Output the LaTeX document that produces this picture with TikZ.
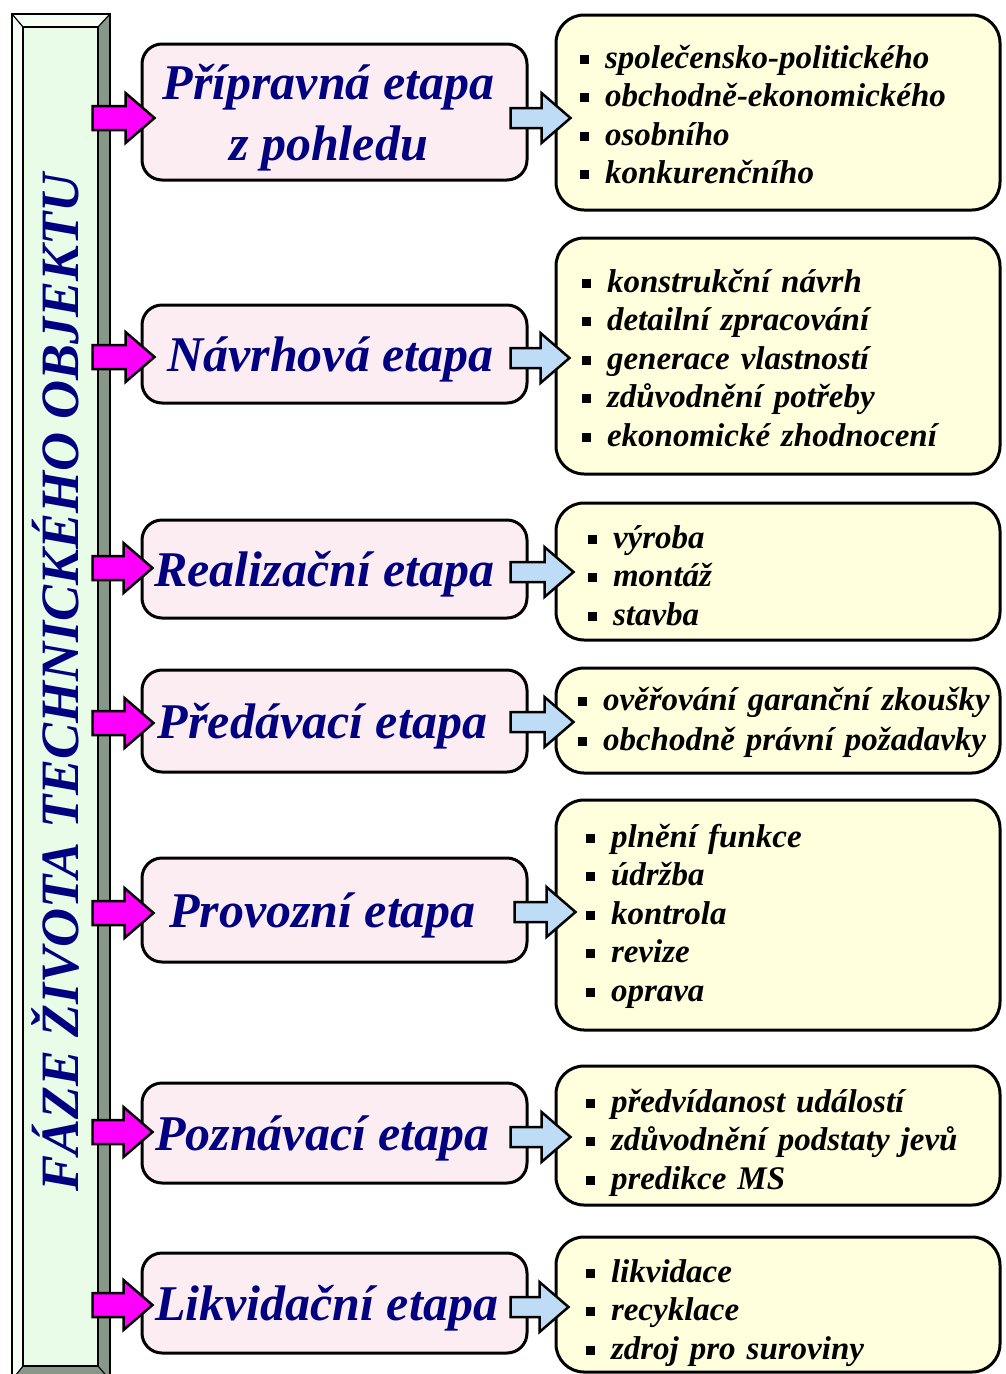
\documentclass[tikz,border=0pt]{standalone}
\usepackage{fontspec}
\setmainfont{Liberation Serif}
\usetikzlibrary{calc}

\definecolor{navy}{RGB}{0,0,128}
\definecolor{pinkfill}{RGB}{252,237,242}
\definecolor{creamfill}{RGB}{255,255,222}
\definecolor{arrowblue}{RGB}{190,220,246}
\definecolor{arrowmagenta}{RGB}{255,0,255}
\definecolor{barface}{RGB}{232,252,232}
\definecolor{barlight}{RGB}{246,255,246}
\definecolor{bardark}{RGB}{136,152,136}

% square bullet followed by the gap before the item text
\newcommand{\sqbullet}{\makebox[25pt][l]{\rule[4.5pt]{9pt}{9pt}}}
\newcommand{\entry}[1]{\mbox{\sqbullet#1}}

% block arrow: fill, half body height, tail point (x used), tip point
\newcommand{\blockarrow}[4]{%
  \draw[arrowline, fill=#1] let \p1=(#3), \p2=(#4) in
    (\x1,\y2+#2) -- (\x2-29pt,\y2+#2) -- (\x2-29pt,\y2+25pt) -- (\x2,\y2)
    -- (\x2-29pt,\y2-25pt) -- (\x2-29pt,\y2-#2) -- (\x1,\y2-#2) -- cycle;}

\tikzset{
  stage/.style={draw=black, line width=3pt, rounded corners=20pt, fill=pinkfill,
    minimum width=385pt, inner sep=0pt},
  stagetitle/.style={text=navy, font=\fontsize{50}{60}\selectfont\bfseries\itshape,
    inner sep=0pt, text height=34pt, text depth=0pt},
  itembox/.style={draw=black, line width=3pt, rounded corners=28pt, fill=creamfill,
    text width=444pt-2*#1, inner xsep=#1, inner ysep=0pt, align=left,
    font=\fontsize{33}{38.5}\selectfont\bfseries\itshape},
  arrowline/.style={draw=black, line width=2.5pt, line join=miter},
  bevelline/.style={draw=black, line width=1.2pt},
}

\begin{document}
\begin{tikzpicture}[x=1pt, y=-1pt]
\useasboundingbox (0,0) rectangle (1006,1374);
\fill[white] (0,0) rectangle (1006,1374);

% bevelled vertical bar on the left
\fill[barlight] (12,14) -- (110,14) -- (98,27) -- (23,27) -- cycle;
\fill[barlight] (12,14) -- (23,27) -- (23,1366) -- (12,1380) -- cycle;
\fill[bardark] (110,14) -- (110,1380) -- (98,1366) -- (98,27) -- cycle;
\fill[bardark] (12,1380) -- (23,1366) -- (98,1366) -- (110,1380) -- cycle;
\draw[bevelline] (12,14) rectangle (110,1380);
\draw[bevelline] (12,14) -- (23,27) (110,14) -- (98,27)
                 (12,1380) -- (23,1366) (110,1380) -- (98,1366);
\node[bevelline, fill=barface, minimum width=75pt, minimum height=1339pt, inner sep=0pt]
  (bar) at (60.5,696.5) {};
\node[text=navy, font=\fontsize{54}{60}\selectfont\bfseries\itshape, inner sep=0pt,
  text height=36pt, text depth=0pt, rotate=90] (bartitle) at ([yshift=14pt]bar.center)
  {FÁZE ŽIVOTA TECHNICKÉHO OBJEKTU};

% stages
\node[stage, minimum height=136pt] (pk1) at (334.5,112) {};
\node[stage, minimum height=98pt]  (pk2) at (334.5,354) {};
\node[stage, minimum height=98pt]  (pk3) at (334.5,569) {};
\node[stage, minimum height=102pt] (pk4) at (334.5,721) {};
\node[stage, minimum height=104pt] (pk5) at (334.5,910) {};
\node[stage, minimum height=100pt] (pk6) at (334.5,1133) {};
\node[stage, minimum height=100pt] (pk7) at (334.5,1303) {};

\node[stagetitle, text height=, text depth=, align=center,
  font=\fontsize{50}{61}\selectfont\bfseries\itshape] (t1)
  at ([xshift=-6pt, yshift=-6pt]pk1.center) {Přípravná etapa\\z pohledu};
\node[stagetitle] (t2) at ([xshift=-4pt]pk2.center) {Návrhová etapa};
\node[stagetitle] (t3) at ([xshift=-10pt]pk3.center) {Realizační etapa};
\node[stagetitle] (t4) at ([xshift=-12pt]pk4.center) {Předávací etapa};
\node[stagetitle] (t5) at ([xshift=-12pt]pk5.center) {Provozní etapa};
\node[stagetitle] (t6) at ([xshift=-12pt]pk6.center) {Poznávací etapa};
\node[stagetitle] (t7) at ([xshift=-8pt]pk7.center) {Likvidační etapa};

% item lists (text height/depth fix where the first baseline sits)
\node[itembox=24pt, minimum height=195pt, text height=26.5pt, text depth=115.5pt]
  (yl1) at (778,112.5)
  {\entry{společensko-politického}\\\entry{obchodně-ekonomického}\\\entry{osobního}\\\entry{konkurenčního}};
\node[itembox=26pt, minimum height=236pt, text height=26pt, text depth=154pt]
  (yl2) at (778,356)
  {\entry{konstrukční návrh}\\\entry{detailní zpracování}\\\entry{generace vlastností}\\\entry{zdůvodnění potřeby}\\\entry{ekonomické zhodnocení}};
\node[itembox=32pt, minimum height=137pt, text height=30pt, text depth=77pt]
  (yl3) at (778,571.5)
  {\entry{výroba}\\\entry{montáž}\\\entry{stavba}};
\node[itembox=22pt, minimum height=105pt, text height=19pt, text depth=40pt,
  font=\fontsize{33}{40}\selectfont\bfseries\itshape]
  (yl4) at (778,720.5)
  {\entry{ověřování garanční zkoušky}\\\entry{obchodně právní požadavky}};
\node[itembox=30pt, minimum height=230pt, text height=18pt, text depth=154pt]
  (yl5) at (778,915)
  {\entry{plnění funkce}\\\entry{údržba}\\\entry{kontrola}\\\entry{revize}\\\entry{oprava}};
\node[itembox=30pt, minimum height=139pt, text height=30pt, text depth=77pt]
  (yl6) at (778,1135.5)
  {\entry{předvídanost událostí}\\\entry{zdůvodnění podstaty jevů}\\\entry{predikce MS}};
\node[itembox=30pt, minimum height=135pt, text height=32pt, text depth=77pt]
  (yl7) at (778,1304.5)
  {\entry{likvidace}\\\entry{recyklace}\\\entry{zdroj pro suroviny}};

% arrows from the bar into each stage
\blockarrow{arrowmagenta}{12pt}{$(bar.east |- pk1.center)+(-6pt,0)$}{$(pk1.west)+(14pt,-6pt)$}
\blockarrow{arrowmagenta}{12pt}{$(bar.east |- pk2.center)+(-6pt,0)$}{$(pk2.west)+(14pt,-3pt)$}
\blockarrow{arrowmagenta}{12pt}{$(bar.east |- pk3.center)+(-6pt,0)$}{$(pk3.west)+(12pt,1pt)$}
\blockarrow{arrowmagenta}{12pt}{$(bar.east |- pk4.center)+(-6pt,0)$}{$(pk4.west)+(13pt,-2pt)$}
\blockarrow{arrowmagenta}{12pt}{$(bar.east |- pk5.center)+(-6pt,0)$}{$(pk5.west)+(13pt,-3pt)$}
\blockarrow{arrowmagenta}{12pt}{$(bar.east |- pk6.center)+(-6pt,0)$}{$(pk6.west)+(12pt,1pt)$}
\blockarrow{arrowmagenta}{12pt}{$(bar.east |- pk7.center)+(-6pt,0)$}{$(pk7.west)+(12pt,-2pt)$}

% arrows from each stage into its list
\blockarrow{arrowblue}{10pt}{$(pk1.east)+(-18pt,0)$}{$(yl1.west |- pk1.center)+(16pt,-6pt)$}
\blockarrow{arrowblue}{10pt}{$(pk2.east)+(-18pt,0)$}{$(yl2.west |- pk2.center)+(15pt,-4pt)$}
\blockarrow{arrowblue}{10pt}{$(pk3.east)+(-18pt,0)$}{$(yl3.west |- pk3.center)+(19pt,-3pt)$}
\blockarrow{arrowblue}{10pt}{$(pk4.east)+(-18pt,0)$}{$(yl4.west |- pk4.center)+(19pt,-1pt)$}
\blockarrow{arrowblue}{10pt}{$(pk5.east)+(-14pt,0)$}{$(yl5.west |- pk5.center)+(21pt,-2pt)$}
\blockarrow{arrowblue}{10pt}{$(pk6.east)+(-18pt,0)$}{$(yl6.west |- pk6.center)+(16pt,-4pt)$}
\blockarrow{arrowblue}{10pt}{$(pk7.east)+(-18pt,0)$}{$(yl7.west |- pk7.center)+(14pt,-4pt)$}
\end{tikzpicture}
\end{document}
